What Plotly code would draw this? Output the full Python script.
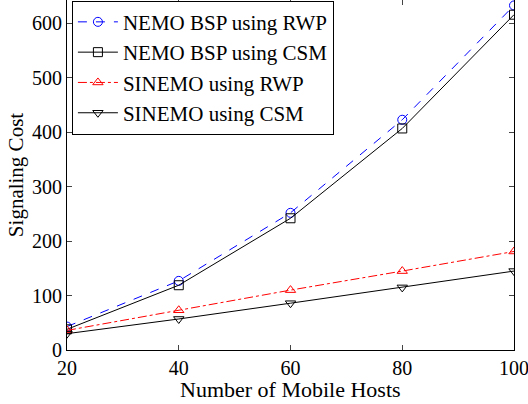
import plotly.graph_objects as go

hosts = [20, 40, 60, 80, 100]
nemo_rwp = [43, 127, 252, 423, 633]
nemo_csm = [38, 119, 242, 407, 616]
sinemo_rwp = [36, 73, 110, 145, 181]
sinemo_csm = [30, 57, 86, 115, 145]

font = "Liberation Serif"
fig = go.Figure()
series = [
    ("NEMO BSP using RWP", nemo_rwp, "blue", "dash", "circle-open"),
    ("NEMO BSP using CSM", nemo_csm, "black", "solid", "square-open"),
    ("SINEMO using RWP", sinemo_rwp, "red", "dashdot", "triangle-up-open"),
    ("SINEMO using CSM", sinemo_csm, "black", "solid", "triangle-down-open"),
]
for i, (name, ys, col, dash, sym) in enumerate(series):
    fig.add_trace(go.Scatter(
        x=hosts, y=ys, name=name, mode="lines+markers", legendgroup=f"g{i}",
        line=dict(color=col, width=1, dash=dash),
        marker=dict(symbol=sym, size=9, color=col, line=dict(width=1, color=col)),
    ))

fig.update_layout(
    width=528, height=404,
    margin=dict(l=67, r=14, t=0, b=54),
    paper_bgcolor="white", plot_bgcolor="white",
    font=dict(family=font, size=20, color="black"),
    showlegend=True,
    legend=dict(
        x=0.011, y=0.998, xanchor="left", yanchor="top",
        bordercolor="black", borderwidth=1, bgcolor="white",
        font=dict(family=font, size=21),
        tracegroupgap=0, itemwidth=40, entrywidth=262,
    ),
    xaxis=dict(
        range=[20, 100], tickvals=[20, 40, 60, 80, 100],
        ticks="inside", ticklen=5, mirror="allticks", showline=True,
        linecolor="black", linewidth=1, showgrid=False, zeroline=False,
        automargin=False, ticklabeloverflow="allow",
        tickfont=dict(size=20),
    ),
    yaxis=dict(
        range=[0, 643], tickvals=[0, 100, 200, 300, 400, 500, 600],
        ticks="inside", ticklen=5, mirror="allticks", showline=True,
        linecolor="black", linewidth=1, showgrid=False, zeroline=False,
        automargin=False, ticklabeloverflow="allow",
        title=dict(text="Signaling Cost", standoff=2, font=dict(size=21)),
        tickfont=dict(size=20),
    ),
    annotations=[dict(
        text="Number of Mobile Hosts", xref="paper", yref="paper",
        x=0.5, y=-0.114, xanchor="center", yanchor="middle",
        showarrow=False, font=dict(family=font, size=22),
    )],
)
fig.write_html("out.html", config={"displayModeBar": False},
               post_script="document.body.style.margin='0';document.body.style.padding='0';")
